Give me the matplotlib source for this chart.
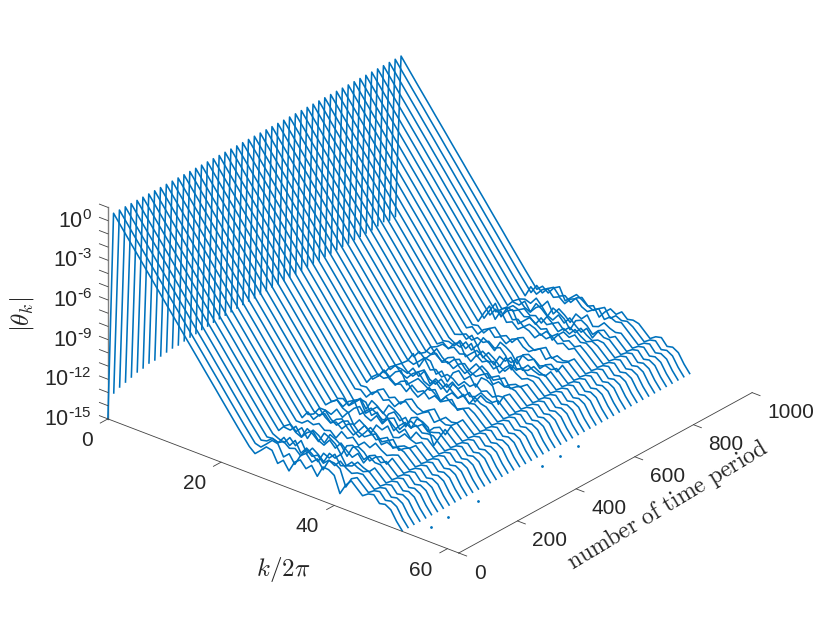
import matplotlib
matplotlib.use("Agg")
import matplotlib.pyplot as plt
import numpy as np
from mpl_toolkits.mplot3d import proj3d

plt.rcParams['font.family'] = ['Liberation Sans', 'DejaVu Sans']

# all heights are decades above the floor of the z axis (10^-15)
floor_exp = -15
top_exp = 1

k_limit = 62
t_limit = 1000
k_ticks = [0, 20, 40, 60]
t_ticks = [0, 200, 400, 600, 800, 1000]
z_labelled = [-15, -12, -9, -6, -3, 0]

time_periods = list(range(0, 1000, 20))

# height of the k=0 point of every line
start_height = [0.0, 1.72, 1.93, 2.06, 2.2, 2.34, 2.4, 2.53, 2.52, 2.58,
                2.64, 2.7, 2.68, 2.75, 2.8, 2.82, 2.88, 2.9, 2.95, 2.97,
                3.0, 3.02, 3.05, 3.08, 3.1, 3.1, 3.14, 3.16, 3.18, 3.2,
                3.2, 3.23, 3.25, 3.26, 3.28, 3.3, 3.3, 3.32, 3.33, 3.35,
                3.35, 3.36, 3.37, 3.38, 3.39, 3.39, 3.45, 3.53, 3.4, 3.42]

# k=1..25, straight decay shared by the lines
decay_height = [15.72, 15.14, 14.56, 13.98, 13.41, 12.84, 12.26, 11.69, 11.12, 10.54,
                9.97, 9.4, 8.82, 8.25, 7.68, 7.11, 6.53, 5.96, 5.39, 4.81,
                4.24, 3.67, 3.1, 2.55, 2.0]

noise_shapes = [
    [1.63, 2.03, 2.46, 2.37, 1.54, 1.94, 1.30, 2.13, 2.46, 1.96, 2.37, 1.71, 2.58, 2.54, 2.27, 1.06, 1.85],
    [2.10, 2.45, 2.30, 2.55, 2.20, 2.35, 1.95, 2.60, 2.25, 2.50, 2.05, 2.45, 2.20, 2.70, 2.35, 2.10, 2.30],
    [1.90, 1.75, 2.30, 1.85, 2.40, 1.60, 2.15, 1.85, 1.45, 2.25, 2.05, 2.50, 1.80, 1.95, 2.40, 2.15, 2.00],
    [2.40, 2.70, 2.25, 2.05, 2.55, 2.85, 2.30, 2.10, 2.65, 2.20, 2.75, 2.35, 2.00, 2.45, 1.90, 2.55, 2.25],
    [1.75, 2.20, 1.55, 2.35, 2.10, 1.70, 2.50, 2.30, 2.00, 1.35, 2.20, 2.40, 2.15, 1.65, 2.10, 2.30, 1.90],
    [2.55, 2.15, 2.65, 2.90, 2.40, 2.60, 2.25, 2.75, 2.95, 2.50, 2.30, 2.60, 2.85, 2.20, 2.55, 2.35, 2.45],
    [2.00, 2.60, 2.10, 1.80, 2.25, 2.45, 1.90, 1.55, 2.05, 2.60, 2.30, 1.85, 2.10, 2.35, 1.70, 2.00, 2.20],
    [2.30, 1.95, 2.50, 2.75, 1.85, 2.25, 2.65, 2.40, 2.10, 2.30, 1.60, 2.15, 2.55, 2.30, 2.65, 2.25, 2.35],
    [2.15, 2.35, 2.05, 2.40, 2.20, 2.45, 2.10, 2.30, 1.85, 0.95, 2.05, 2.35, 2.15, 2.40, 2.05, 2.25, 2.10],
    [2.35, 3.05, 2.20, 3.00, 2.30, 2.50, 2.10, 2.45, 2.30, 1.95, 2.40, 2.20, 2.55, 2.15, 2.35, 2.05, 2.30],
]

# one shape for every line; neighbouring lines bunch up, as they do in the band
line_shape = [0, 0, 1, 2, 2, 3, 4, 4, 1, 5,
              6, 6, 2, 3, 7, 7, 0, 4, 5, 5,
              1, 6, 7, 3, 3, 2, 9, 0, 5, 6,
              6, 1, 7, 2, 2, 8, 4, 5, 5, 9,
              9, 7, 1, 1, 3, 4, 2, 5, 5, 7]
# pushed apart around the two holes in the band (near t=380 and t=770)
line_shift = [0.0, 0.25, 0.0, 0.15, -0.1, 0.1, 0.2, -0.15, -0.1, 0.05,
              0.2, -0.2, 0.1, 0.0, 0.0, -0.15, -0.25, -0.35, -0.45, -0.5,
              0.5, 0.4, 0.3, 0.2, 0.1, 0.05, 0.0, 0.2, 0.0, 0.25,
              -0.15, 0.1, 0.0, 0.2, -0.15, 0.0, -0.2, -0.3, -0.45, 0.45,
              0.4, 0.3, 0.25, 0.1, 0.1, 0.2, 0.25, 0.3, 0.15, 0.1]

# k=43..52, the tail is the same on all lines and makes the two ridges
tail_height = [2.35, 1.95, 1.55, 1.85, 1.95, 1.45, 1.55, 1.3, 0.6, 0.05]

# tiny bits that poke above the floor at k=55
stray_times = [40, 100, 200, 420, 480, 540]
stray_height = [0.35, 0.38, 0.38, 0.37, 0.38, 0.43]
stray_k = 55

line_color = '#0072BD'
axis_color = '#404040'
text_color = '#262626'

fig = plt.figure(figsize=(8.3, 6.23), dpi=100)
ax = fig.add_axes([114.2 / 830, 7.2 / 623, 615 / 830, 615 / 623], projection='3d')
ax.set_proj_type('ortho')
ax.view_init(elev=27.2, azim=-50.1)
ax.set_box_aspect((1, 1, 0.52), zoom=1.0878)
ax.set_xlim(0, k_limit)
ax.set_ylim(0, t_limit)
ax.set_zlim(floor_exp, top_exp)
ax.set_axis_off()


def label_at(k, t, z, s, size=15, **kwargs):
    # plain 2D text placed at a projected data point
    x2, y2, _ = proj3d.proj_transform(k, t, z, ax.get_proj())
    ax.text2D(x2, y2, s, transform=ax.transData, fontsize=size, color=text_color, **kwargs)


k_values = np.arange(53)
for i, t in enumerate(time_periods):
    noise = np.array(noise_shapes[line_shape[i]]) + line_shift[i]
    heights = np.concatenate([[start_height[i]], decay_height, noise, tail_height])
    ax.plot(k_values, np.full(k_values.shape, t), heights + floor_exp,
            color=line_color, lw=1.15, solid_joinstyle='round', clip_on=False)

ax.plot([stray_k] * len(stray_times), stray_times, np.array(stray_height) + floor_exp,
        ls='none', marker='.', ms=2.0, color=line_color, clip_on=False)

# box edges and ticks by hand, the mplot3d panes do not look like this
axis_style = dict(color=axis_color, lw=0.6, clip_on=False)
ax.plot([0, k_limit], [0, 0], [floor_exp, floor_exp], **axis_style)
ax.plot([k_limit, k_limit], [0, t_limit], [floor_exp, floor_exp], **axis_style)
ax.plot([0, 0], [0, 0], [floor_exp, top_exp], color='#808080', lw=1.0, clip_on=False, zorder=0)

for k in k_ticks:
    ax.plot([k, k], [0, -26], [floor_exp, floor_exp], **axis_style)
    label_at(k, -51, floor_exp - 1.0, str(k), ha='right', va='center')
for t in t_ticks:
    ax.plot([k_limit, k_limit + 1.4], [t, t], [floor_exp, floor_exp], **axis_style)
    label_at(k_limit + 2.65, t, floor_exp - 1.08, str(t), ha='left', va='center')
for z in range(floor_exp, top_exp + 1):
    ax.plot([0, -1.5], [0, 0], [z, z], **axis_style)
for z in z_labelled:
    exponent = '0' if z == 0 else r'\text{-}%d' % abs(z)
    label_at(-1.665, -22.5, z - 0.53, r'$\mathregular{10^{%s}}$' % exponent, size=15.5,
             ha='right', va='baseline')

fig.text(22 / 830, 1 - 314 / 623, r'$|\theta_k|$', rotation=90, ha='center', va='center',
         fontsize=18, math_fontfamily='cm', color=text_color)
fig.text(283 / 830, 1 - 570 / 623, r'$k/2\pi$', ha='center', va='center',
         fontsize=18, math_fontfamily='cm', color=text_color)
fig.text(668 / 830, 1 - 505 / 623, r'$\mathrm{number\ of\ time\ period}$', rotation=31,
         rotation_mode='anchor', ha='center', va='center',
         fontsize=17, math_fontfamily='cm', color=text_color)

fig.savefig('out.png', dpi=100)
